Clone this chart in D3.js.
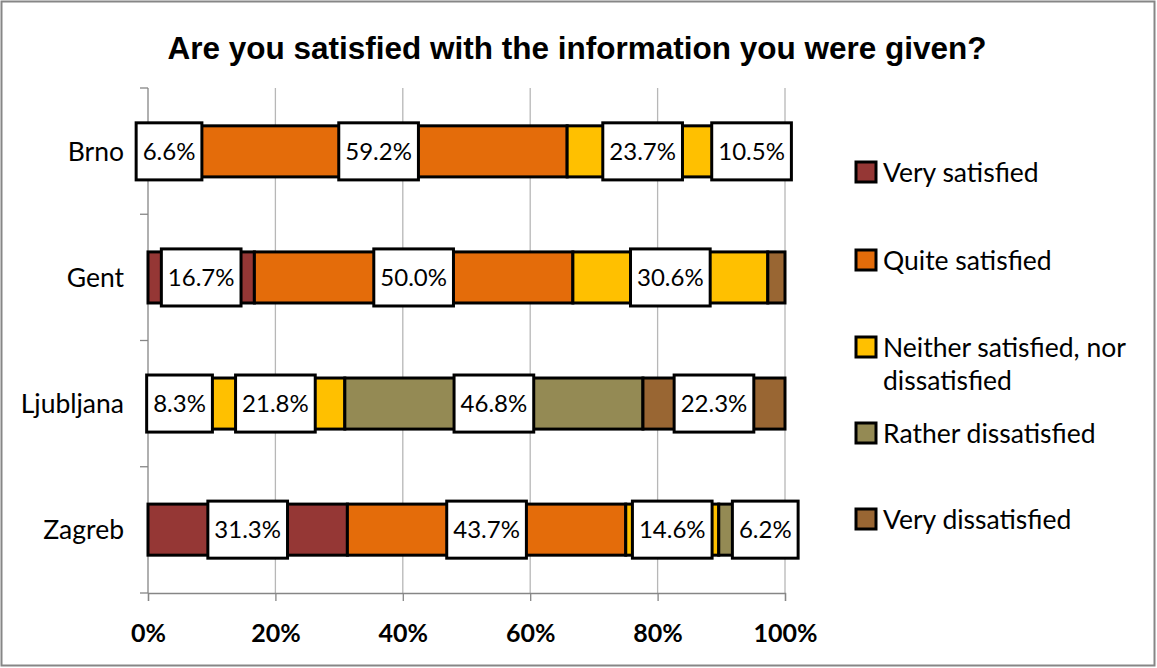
<!DOCTYPE html>
<html>
<head>
<meta charset="utf-8">
<script src="https://cdn.jsdelivr.net/npm/d3@7"></script>
<style>
  body { margin: 0; background: #fff; }
  svg { display: block; }
</style>
</head>
<body>
<div id="chart"></div>
<script>
// survey data (percent of respondents per city)
const cities = ["Brno", "Gent", "Ljubljana", "Zagreb"];
const seriesNames = ["Very satisfied", "Quite satisfied", "Neither satisfied, nor dissatisfied", "Rather dissatisfied", "Very dissatisfied"];
const verySatisfied = [6.6, 16.7, 0.8, 31.3];
const quiteSatisfied = [59.2, 50.0, 8.3, 43.7];
const neither = [23.7, 30.6, 21.8, 14.6];
const ratherDissatisfied = [0, 0, 46.8, 4.2];
const veryDissatisfied = [10.5, 2.7, 22.3, 6.2];
const xTicks = [0, 20, 40, 60, 80, 100];
const colors = ["#953735", "#e46c0a", "#ffc000", "#948a54", "#996633"];

const W = 1157, H = 668;
const margin = { left: 148, right: 372, top: 88, bottom: 75 };
const width = 785 - margin.left;
const height = 593 - margin.top;
const font = "Lato, 'Liberation Sans', sans-serif";

const svg = d3.select("#chart").append("svg")
    .attr("width", W)
    .attr("height", H);

svg.append("rect")
    .attr("x", 1.5).attr("y", 1.5)
    .attr("width", W - 4).attr("height", H - 4)
    .attr("fill", "#fff")
    .attr("stroke", "#868686")
    .attr("stroke-width", 2);

svg.append("text")
    .attr("x", 577).attr("y", 59)
    .attr("text-anchor", "middle")
    .attr("font-family", "'Liberation Sans', Arial, sans-serif")
    .attr("font-weight", "bold")
    .attr("font-size", 31.5)
    .text("Are you satisfied with the information you were given?");

const g = svg.append("g")
    .attr("transform", "translate(" + margin.left + "," + margin.top + ")");

const x = d3.scaleLinear().domain([0, 100]).range([0, width]);
const y = d3.scaleBand().domain(cities).range([0, height]).paddingInner(0.595).paddingOuter(0.3);

// gridlines
g.selectAll(".grid")
    .data(xTicks.slice(1))
    .enter().append("line")
    .attr("x1", d => x(d)).attr("x2", d => x(d))
    .attr("y1", 0).attr("y2", height)
    .attr("stroke", "#b7b7b7")
    .attr("stroke-width", 1.3);

// x axis
const xAxis = g.append("g")
    .attr("transform", "translate(0," + height + ")")
    .call(d3.axisBottom(x).tickValues(xTicks).tickSize(8).tickFormat(d => d + "%").tickPadding(23));
xAxis.select(".domain").attr("stroke", "#868686").attr("stroke-width", 1.3);
xAxis.selectAll(".tick line").attr("stroke", "#868686").attr("stroke-width", 1.3);
xAxis.selectAll("text")
    .attr("font-family", font)
    .attr("font-weight", "bold")
    .attr("font-size", 25)
    .attr("fill", "#000");

// y axis line with ticks between categories
const step = height / cities.length;
g.append("line")
    .attr("x1", 0).attr("x2", 0).attr("y1", 0).attr("y2", height)
    .attr("stroke", "#868686").attr("stroke-width", 1.3);
g.selectAll(".ytick")
    .data(d3.range(cities.length + 1))
    .enter().append("line")
    .attr("x1", -8).attr("x2", 0)
    .attr("y1", d => d * step).attr("y2", d => d * step)
    .attr("stroke", "#868686").attr("stroke-width", 1.3);

g.selectAll(".cat")
    .data(cities)
    .enter().append("text")
    .attr("x", -24)
    .attr("y", d => y(d) + y.bandwidth() / 2)
    .attr("dy", "0.36em")
    .attr("text-anchor", "end")
    .attr("font-family", font)
    .attr("font-size", 26.5)
    .text(d => d);

// stack data
const rows = cities.map((c, i) => ({
    city: c,
    s0: verySatisfied[i], s1: quiteSatisfied[i], s2: neither[i],
    s3: ratherDissatisfied[i], s4: veryDissatisfied[i]
}));
const keys = ["s0", "s1", "s2", "s3", "s4"];
const stacked = d3.stack().keys(keys)(rows);

const layers = g.selectAll(".layer")
    .data(stacked)
    .enter().append("g")
    .attr("fill", (d, i) => colors[i]);

layers.selectAll("rect")
    .data(d => d.filter(p => p[1] - p[0] > 0))
    .enter().append("rect")
    .attr("x", d => x(d[0]))
    .attr("y", d => y(d.data.city))
    .attr("width", d => x(d[1]) - x(d[0]))
    .attr("height", y.bandwidth())
    .attr("stroke", "#000")
    .attr("stroke-width", 3);

// data labels (only for values 5% and above)
const labels = [];
stacked.forEach(layer => layer.forEach(p => {
    const v = p[1] - p[0];
    if (v >= 5) labels.push({ city: p.data.city, mid: (p[0] + p[1]) / 2, v: v });
}));

const lab = g.selectAll(".lab")
    .data(labels)
    .enter().append("g")
    .attr("transform", d => "translate(" + x(d.mid) + "," + (y(d.city) + y.bandwidth() / 2) + ")");

lab.append("text")
    .attr("text-anchor", "middle")
    .attr("dy", "0.36em")
    .attr("font-family", font)
    .attr("font-size", 24)
    .text(d => d.v.toFixed(1) + "%");

lab.each(function () {
    const t = d3.select(this).select("text");
    const w = t.node().getComputedTextLength() + 13;
    const h = y.bandwidth() + 6;
    d3.select(this).insert("rect", "text")
        .attr("x", -w / 2).attr("y", -h / 2)
        .attr("width", w).attr("height", h)
        .attr("fill", "#fff")
        .attr("stroke", "#000")
        .attr("stroke-width", 3);
});

// legend
const legendY = [172, 260, 347, 433, 519];
const leg = svg.selectAll(".leg")
    .data(seriesNames)
    .enter().append("g")
    .attr("transform", (d, i) => "translate(856," + legendY[i] + ")");

leg.append("rect")
    .attr("x", 0).attr("y", -10)
    .attr("width", 20).attr("height", 20)
    .attr("fill", (d, i) => colors[i])
    .attr("stroke", "#000")
    .attr("stroke-width", 3);

leg.append("text")
    .attr("font-family", font)
    .attr("font-size", 26.5)
    .each(function (d) {
        const t = d3.select(this);
        const parts = d === seriesNames[2] ? ["Neither satisfied, nor", "dissatisfied"] : [d];
        parts.forEach((p, j) => {
            t.append("tspan").attr("x", 27).attr("dy", j === 0 ? "0.36em" : "1.25em").text(p);
        });
    });
</script>
</body>
</html>
